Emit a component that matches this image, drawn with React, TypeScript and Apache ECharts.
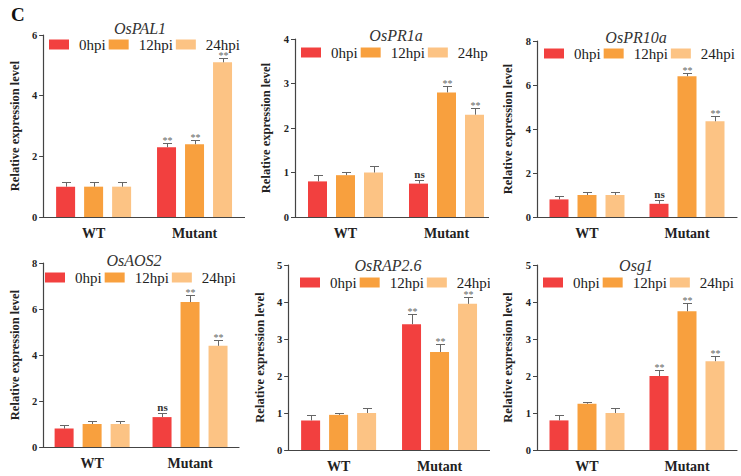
import React, { useEffect, useRef } from "react";
import * as echarts from "echarts";

const categories = ["WT", "Mutant"];
const timePoints = ["0hpi", "12hpi", "24hpi"];
const geneNames = ["OsPAL1", "OsPR1a", "OsPR10a", "OsAOS2", "OsRAP2.6", "Osg1"];
const yMaxima = [6, 4, 8, 8, 5, 5];
const yIntervals = [2, 1, 2, 2, 1, 1];
// legend label as printed in the OsPR1a panel (cut short at the panel edge in the original)
const osPR1aLegendLabels = ["0hpi", "12hpi", "24hp"];

// means: [0hpi, 12hpi, 24hpi], each [WT, Mutant]
const osPAL1Mean = [[1.0, 2.3], [1.0, 2.4], [1.0, 5.1]];
const osPAL1Err = [[0.14, 0.15], [0.14, 0.14], [0.14, 0.14]];
const osPAL1Sig = [["", "**"], ["", "**"], ["", "**"]];

const osPR1aMean = [[0.8, 0.75], [0.94, 2.8], [1.0, 2.3]];
const osPR1aErr = [[0.15, 0.09], [0.08, 0.14], [0.15, 0.15]];
const osPR1aSig = [["", "ns"], ["", "**"], ["", "**"]];

const osPR10aMean = [[0.8, 0.6], [1.0, 6.4], [1.0, 4.35]];
const osPR10aErr = [[0.14, 0.19], [0.14, 0.14], [0.14, 0.25]];
const osPR10aSig = [["", "ns"], ["", "**"], ["", "**"]];

const osAOS2Mean = [[0.8, 1.3], [1.0, 6.3], [1.0, 4.4]];
const osAOS2Err = [[0.14, 0.19], [0.15, 0.29], [0.15, 0.26]];
const osAOS2Sig = [["", "ns"], ["", "**"], ["", "**"]];

const osRAP26Mean = [[0.8, 3.4], [0.95, 2.65], [1.0, 3.95]];
const osRAP26Err = [[0.15, 0.28], [0.06, 0.22], [0.14, 0.18]];
const osRAP26Sig = [["", "**"], ["", "**"], ["", "**"]];

const osg1Mean = [[0.8, 2.0], [1.25, 3.75], [1.0, 2.4]];
const osg1Err = [[0.15, 0.15], [0.06, 0.22], [0.14, 0.15]];
const osg1Sig = [["", "**"], ["", "**"], ["", "**"]];

const allMeans = [osPAL1Mean, osPR1aMean, osPR10aMean, osAOS2Mean, osRAP26Mean, osg1Mean];
const allErrs = [osPAL1Err, osPR1aErr, osPR10aErr, osAOS2Err, osRAP26Err, osg1Err];
const allSigs = [osPAL1Sig, osPR1aSig, osPR10aSig, osAOS2Sig, osRAP26Sig, osg1Sig];

const COLORS = ["#F2403F", "#F8A03E", "#FCC384"];
const FONT = "'Liberation Serif', 'Times New Roman', serif";
const BAR_W = 19;
const BAR_GAP = 9;

type Layout = {
  box: [number, number, number, number];
  grid: [number, number, number, number];
  title: [number, number];
  legend: [number, number];
  nameGap: number;
};

const layouts: Layout[] = [
  { box: [0, 0, 245, 240], grid: [42, 35, 203, 184], title: [140, 20], legend: [49, 37], nameGap: 18 },
  { box: [245, 0, 244, 240], grid: [50, 39, 202, 184], title: [151, 27], legend: [56, 45], nameGap: 16 },
  { box: [490, 0, 251, 240], grid: [47, 41, 200, 184], title: [146, 29], legend: [54, 46], nameGap: 16 },
  { box: [0, 240, 245, 236], grid: [39, 23, 200, 184], title: [134, 12], legend: [45, 30], nameGap: 15 },
  { box: [245, 240, 245, 236], grid: [41, 25, 204, 185], title: [143, 17], legend: [55, 35], nameGap: 11 },
  { box: [490, 240, 251, 236], grid: [47, 25, 200, 185], title: [146, 17], legend: [53, 35], nameGap: 15 },
];

function buildOption(p: number) {
  const L = layouts[p];
  const means = allMeans[p];
  const errs = allErrs[p];
  const sigs = allSigs[p];
  const series: any[] = [];
  timePoints.forEach((tp, s) => {
    series.push({
      name: tp,
      type: "bar",
      data: means[s],
      barWidth: BAR_W,
      barGap: (BAR_GAP / BAR_W) * 100 + "%",
      itemStyle: { color: COLORS[s] },
      z: 2,
    });
  });
  timePoints.forEach((tp, s) => {
    const offset = (s - 1) * (BAR_W + BAR_GAP);
    series.push({
      name: tp + " error",
      type: "custom",
      z: 3,
      data: categories.map((c, i) => [i, means[s][i], errs[s][i]]),
      encode: { x: 0, y: 1 },
      renderItem: (params: any, api: any) => {
        const idx = api.value(0);
        const m = api.value(1);
        const e = api.value(2);
        const base = api.coord([idx, m]);
        const top = api.coord([idx, m + e]);
        const x = Math.round(base[0] + offset) + 0.5;
        const ty = Math.round(top[1]) + 0.5;
        const sig = sigs[s][params.dataIndex];
        const isNs = sig === "ns";
        const children: any[] = [
          { type: "line", shape: { x1: x, y1: base[1], x2: x, y2: ty }, style: { stroke: "#666", lineWidth: 1 } },
          { type: "line", shape: { x1: x - 4.5, y1: ty, x2: x + 4.5, y2: ty }, style: { stroke: "#666", lineWidth: 1 } },
        ];
        if (sig) {
          children.push({
            type: "text",
            x: x,
            y: isNs ? ty - 1 : ty + 2,
            style: {
              text: sig,
              align: "center",
              verticalAlign: "bottom",
              fontFamily: FONT,
              fontSize: isNs ? 11 : 10,
              fontWeight: isNs ? "bold" : "normal",
              fill: isNs ? "#333" : "#666",
            },
          });
        }
        return { type: "group", children };
      },
    });
  });

  const option: any = {
    animation: false,
    backgroundColor: "#fff",
    title: {
      text: geneNames[p],
      left: L.title[0],
      top: L.title[1],
      textAlign: "center",
      padding: 0,
      textStyle: { fontFamily: FONT, fontStyle: "italic", fontWeight: "normal", fontSize: 16, color: "#333" },
    },
    legend: {
      data: timePoints,
      left: L.legend[0],
      top: L.legend[1],
      padding: 0,
      itemWidth: 20,
      itemHeight: 10,
      itemGap: 3,
      icon: "rect",
      selectedMode: false,
      formatter: (name: string) => (p === 1 ? osPR1aLegendLabels[timePoints.indexOf(name)] : name),
      textStyle: { fontFamily: FONT, fontSize: 15, color: "#222", padding: [2, 0, 0, 5] },
    },
    grid: { left: L.grid[0], top: L.grid[1], width: L.grid[2], height: L.grid[3] },
    xAxis: {
      type: "category",
      data: categories,
      axisLine: { lineStyle: { color: "#444", width: 1.2 } },
      axisTick: { alignWithLabel: true, length: 4, lineStyle: { color: "#444" } },
      axisLabel: { fontFamily: FONT, fontWeight: "bold", fontSize: 14, color: "#222", margin: 9 },
    },
    yAxis: {
      type: "value",
      min: 0,
      max: yMaxima[p],
      interval: yIntervals[p],
      name: "Relative expression level",
      nameLocation: "middle",
      nameGap: L.nameGap,
      nameTextStyle: { fontFamily: FONT, fontWeight: "bold", fontSize: 12.5, color: "#222" },
      axisLine: { show: true, lineStyle: { color: "#444", width: 1.2 } },
      axisTick: { show: true, length: 4, lineStyle: { color: "#444" } },
      axisLabel: { fontFamily: FONT, fontWeight: "bold", fontSize: 10.5, color: "#222", margin: 6 },
      splitLine: { show: false },
    },
    series,
  };
  if (p === 0) {
    option.graphic = [
      {
        type: "text",
        left: 11,
        top: 5,
        style: { text: "C", fontFamily: FONT, fontWeight: "bold", fontSize: 19, fill: "#111" },
      },
    ];
  }
  return option;
}

function Panel({ p }: { p: number }) {
  const ref = useRef<HTMLDivElement>(null);
  const L = layouts[p];
  useEffect(() => {
    if (!ref.current) return;
    const chart = echarts.init(ref.current, undefined, { renderer: "svg" });
    chart.setOption(buildOption(p));
    return () => chart.dispose();
  }, [p]);
  return (
    <div
      style={{
        position: "absolute",
        left: L.box[0],
        top: L.box[1],
        width: L.box[2],
        height: L.box[3],
        overflow: "hidden",
      }}
    >
      <div ref={ref} style={{ width: 300, height: L.box[3] }} />
    </div>
  );
}

export default function App() {
  return (
    <div style={{ position: "absolute", left: 0, top: 0, width: 741, height: 476, background: "#fff", overflow: "hidden" }}>
      {layouts.map((_, p) => (
        <Panel key={p} p={p} />
      ))}
    </div>
  );
}
